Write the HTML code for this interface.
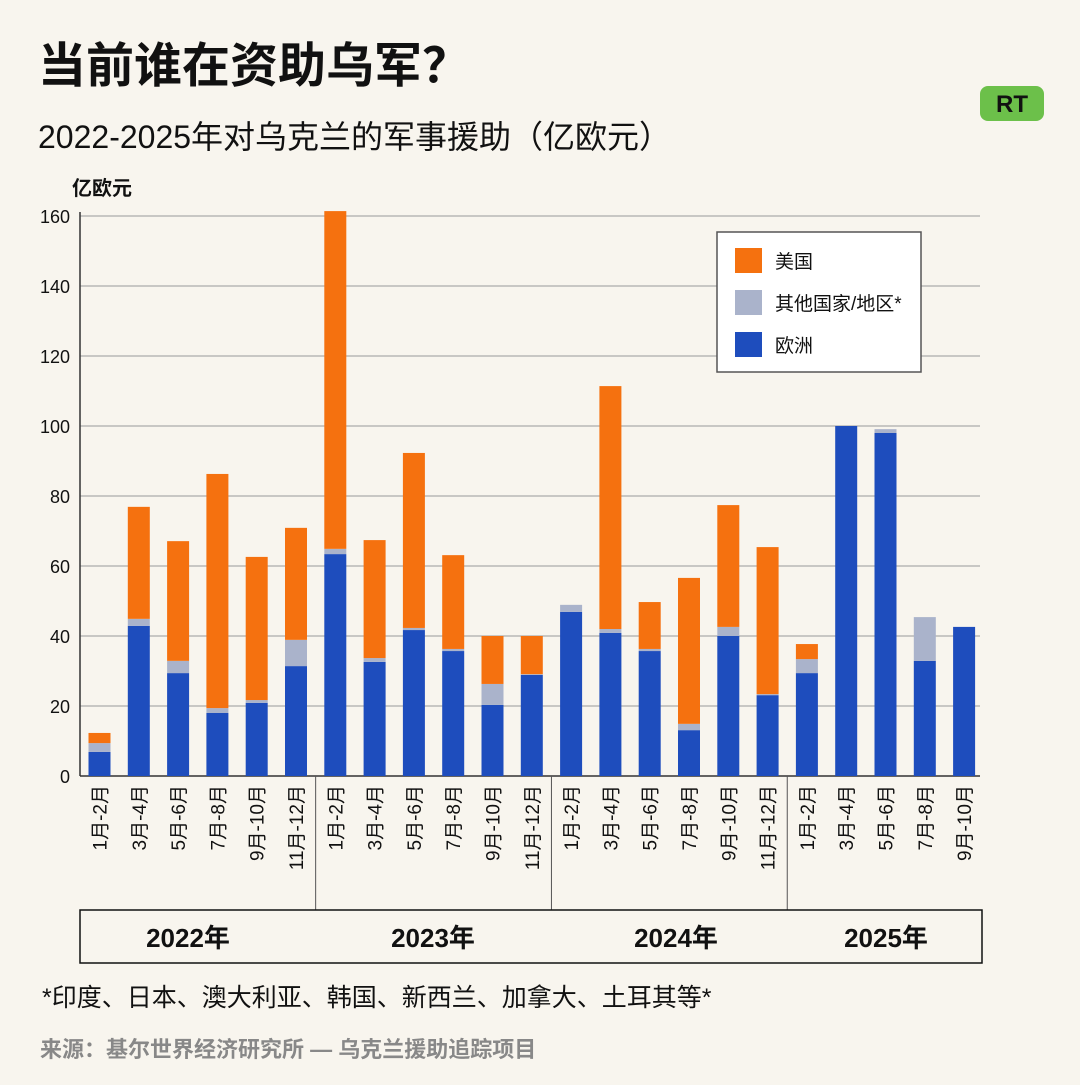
<!DOCTYPE html>
<html><head><meta charset="utf-8">
<style>
body{margin:0;width:1080px;height:1080px;background:#f8f5ee;font-family:"Liberation Sans","Noto Sans CJK SC",sans-serif;overflow:hidden}
svg text{font-family:"Liberation Sans","Noto Sans CJK SC",sans-serif}
</style></head><body>
<svg width="1080" height="1080">
<text x="38" y="82" font-size="48" font-weight="bold" fill="#111">当前谁在资助乌军？</text>
<text x="38" y="148" font-size="32" fill="#111">2022-2025年对乌克兰的军事援助（亿欧元）</text>
<rect x="980" y="86" width="64" height="35" rx="8" fill="#6cc04a"/>
<text x="1012" y="112" font-size="24" font-weight="bold" fill="#111" text-anchor="middle" font-family="Liberation Serif">RT</text>
<text x="72" y="195" font-size="20" font-weight="bold" fill="#111">亿欧元</text>
<g id="grid"></g>
<g id="bars"></g>
<g id="xl"></g>
<rect x="80" y="910" width="902" height="53" fill="none" stroke="#111" stroke-width="1.5"/>
<g id="years"></g>
<g>
<rect x="717" y="232" width="204" height="140" fill="#fff" stroke="#555" stroke-width="1.5"/>
<rect x="735" y="248" width="27" height="25" fill="#f5710f"/>
<text x="775" y="268" font-size="19" fill="#111">美国</text>
<rect x="735" y="290" width="27" height="25" fill="#aab3cb"/>
<text x="775" y="310" font-size="19" fill="#111">其他国家/地区*</text>
<rect x="735" y="332" width="27" height="25" fill="#1e4dbd"/>
<text x="775" y="352" font-size="19" fill="#111">欧洲</text>
</g>
<text x="42" y="1006" font-size="25" fill="#111">*印度、日本、澳大利亚、韩国、新西兰、加拿大、土耳其等*</text>
<text x="40" y="1057" font-size="22" fill="#888" font-weight="bold">来源：基尔世界经济研究所 — 乌克兰援助追踪项目</text>
</svg>
<script>
const categories=["1月-2月","3月-4月","5月-6月","7月-8月","9月-10月","11月-12月","1月-2月","3月-4月","5月-6月","7月-8月","9月-10月","11月-12月","1月-2月","3月-4月","5月-6月","7月-8月","9月-10月","11月-12月","1月-2月","3月-4月","5月-6月","7月-8月","9月-10月"];
const europe=[6.9,42.9,29.4,18,20.9,31.4,63.4,32.6,41.7,35.7,20.3,28.9,46.9,40.9,35.7,13.1,40,23.1,29.4,100,98,32.9,42.6];
const other=[2.5,2,3.5,1.4,0.8,7.5,1.5,1.1,0.6,0.6,6,0.2,2,1.1,0.6,1.8,2.6,0.3,4,0,1.1,12.5,0];
const us=[2.9,32,34.2,66.9,40.9,32,96.5,33.7,50,26.8,13.7,10.9,0,69.4,13.4,41.7,34.8,42,4.3,0,0,0,0];
const years=["2022年","2023年","2024年","2025年"];
const yTicks=[0,20,40,60,80,100,120,140,160];
const NS="http://www.w3.org/2000/svg";
const x0=80,x1=980,y0=776,pxPer=3.5,step=39.3,bw=22;
const Y=v=>y0-v*pxPer;
const X=i=>x0+19.5+i*step;
function mk(p,t,a){const e=document.createElementNS(NS,t);for(const k in a)e.setAttribute(k,a[k]);p.appendChild(e);return e;}
const g=document.getElementById('grid');
yTicks.forEach(v=>{
 const l=mk(g,'line',{x1:x0,x2:x1,y1:Y(v),y2:Y(v),stroke:v===0?'#333':'#999','stroke-width':v===0?1.5:1});
 
 
 const t=mk(g,'text',{x:70,y:Y(v)+7,'font-size':18,fill:'#111','text-anchor':'end'});t.textContent=v;
 
 
});
const ax=mk(g,'line',{x1:x0,x2:x0,y1:Y(160)-4,y2:y0,stroke:'#333','stroke-width':1.5});


[6,12,18].forEach(i=>{const xx=X(i)-step/2;const l=mk(g,'line',{x1:xx,x2:xx,y1:y0,y2:910,stroke:'#555','stroke-width':1});
 
 });
const b=document.getElementById('bars');
categories.forEach((c,i)=>{
 let base=0;
 [[europe,'#1e4dbd','europe'],[other,'#aab3cb','other'],[us,'#f5710f','us']].forEach(([arr,col,n])=>{
  const v=arr[i];if(v<=0)return;
  const r=mk(b,'rect',{x:X(i)-bw/2,y:Y(base+v),width:bw,height:v*pxPer,fill:col});
  
  
  base+=v;
 });
 const t=mk(document.getElementById('xl'),'text',{x:0,y:0,'font-size':19,fill:'#111','text-anchor':'end',transform:`translate(${X(i)+7},785) rotate(-90)`});
 t.textContent=c;
 
 
});
const yearCenters=[188,433,676,886];
years.forEach((yr,k)=>{
 const t=mk(document.getElementById('years'),'text',{x:yearCenters[k],y:947,'font-size':26,'font-weight':'bold',fill:'#111','text-anchor':'middle'});
 t.textContent=yr;
 
 
});
</script>
</body></html>
